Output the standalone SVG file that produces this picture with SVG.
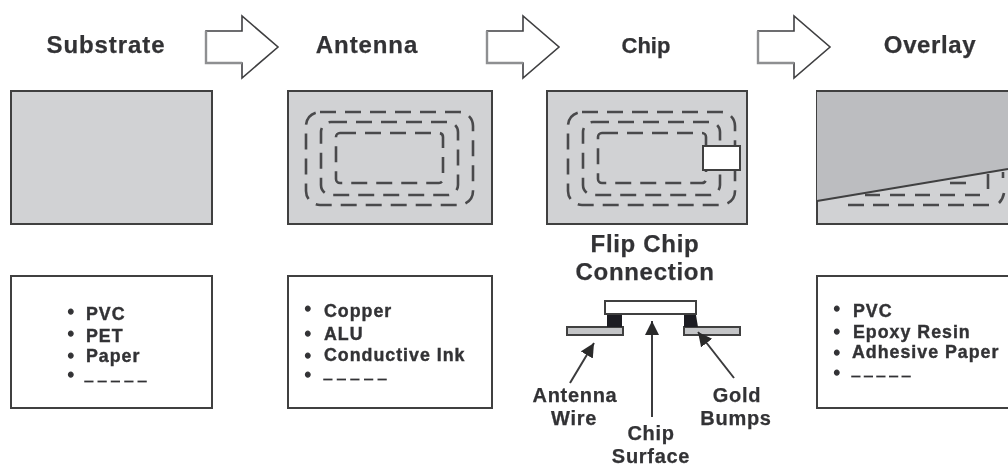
<svg xmlns="http://www.w3.org/2000/svg" width="1008" height="466" viewBox="0 0 1008 466">
<defs>
<style>
text{font-family:"Liberation Sans",Arial,sans-serif;font-weight:bold;fill:#333335;stroke:#333335;stroke-width:.25}
.h{font-size:24px;text-anchor:middle;letter-spacing:.9px}
.f{font-size:24px;text-anchor:middle;letter-spacing:.7px}
.l{font-size:17.8px;letter-spacing:1px;stroke-width:.4}
.b{font-size:16px;stroke-width:1.3}
.u{font-size:14px;stroke-width:1.2}
.c{font-size:20px;text-anchor:middle;letter-spacing:.7px}
.panel{fill:#d1d2d4;stroke:#3f3f41;stroke-width:2}
.box{fill:#fff;stroke:#3f3f41;stroke-width:2}
.flow{fill:#fff;stroke:#3f3f41;stroke-width:1.6}
.shade{fill:none;stroke:#8e8f91;stroke-width:2.4}
.dash{fill:none;stroke:#4a4a4c;stroke-width:2.6;stroke-dasharray:16 9}
.wire{fill:#c4c5c7;stroke:#3f3f41;stroke-width:2}
.bump{fill:#1f1f20}
.conn{stroke:#3a3a3c;stroke-width:2;fill:none;marker-end:url(#ah)}
</style>
<marker id="ah" markerUnits="userSpaceOnUse" markerWidth="16" markerHeight="16" refX="14" refY="7" orient="auto"><path d="M0 0L14 7L0 14Z" fill="#2a2a2c"/></marker>
<filter id="soft" x="-5%" y="-5%" width="110%" height="110%"><feGaussianBlur stdDeviation="0.55"/></filter>
</defs>
<rect width="1008" height="466" fill="#fff"/>
<g filter="url(#soft)">
<g id="substrate">
<text class="h" x="106" y="53">Substrate</text>
<rect class="panel" x="11" y="91" width="201" height="133"/>
<rect class="box" x="11" y="276" width="201" height="132"/>
<text class="b" x="68" y="317">•</text><text class="l" x="86" y="320">PVC</text>
<text class="b" x="68" y="339">•</text><text class="l" x="86" y="342">PET</text>
<text class="b" x="68" y="361">•</text><text class="l" x="86" y="362">Paper</text>
<text class="b" x="68" y="380">•</text><text class="u" x="85" y="380" textLength="61">_____</text>
</g>
<g id="arrow1"><path class="flow" d="M206 31H242V16L278 47L242 78V63H206Z"/><path class="shade" d="M206 31V63H242"/></g>
<g id="antenna">
<text class="h" x="367" y="53">Antenna</text>
<rect class="panel" x="288" y="91" width="204" height="133"/>
<rect class="dash" x="306" y="112" width="167" height="93" rx="14"/>
<rect class="dash" x="321" y="122" width="137" height="73" rx="10"/>
<rect class="dash" x="336" y="133" width="107" height="50" rx="4"/>
<rect class="box" x="288" y="276" width="204" height="132"/>
<text class="b" x="305" y="314">•</text><text class="l" x="324" y="317">Copper</text>
<text class="b" x="305" y="339">•</text><text class="l" x="324" y="340">ALU</text>
<text class="b" x="305" y="361">•</text><text class="l" x="324" y="361">Conductive Ink</text>
<text class="b" x="305" y="380">•</text><text class="u" x="324" y="378" textLength="62">_____</text>
</g>
<g id="arrow2"><path class="flow" d="M487 31H523V16L559 47L523 78V63H487Z"/><path class="shade" d="M487 31V63H523"/></g>
<g id="chip">
<text class="h" x="646" y="53" style="font-size:22px;letter-spacing:0">Chip</text>
<rect class="panel" x="547" y="91" width="200" height="133"/>
<rect class="dash" x="568" y="112" width="167" height="93" rx="14"/>
<rect class="dash" x="583" y="122" width="137" height="73" rx="10"/>
<rect class="dash" x="598" y="133" width="108" height="50" rx="4"/>
<rect class="box" x="703" y="146" width="37" height="24"/>
</g>
<g id="arrow3"><path class="flow" d="M758 31H794V16L830 47L794 78V63H758Z"/><path class="shade" d="M758 31V63H794"/></g>
<g id="overlay">
<text class="h" x="930" y="53" style="letter-spacing:.6px">Overlay</text>
<rect class="panel" x="817" y="91" width="193" height="133"/>
<path d="M817 92H1008V169L817 201Z" fill="#bcbdc0"/>
<path class="dash" d="M848 205H995"/>
<path class="dash" d="M865 195H982" style="stroke-dasharray:15 10"/>
<path class="dash" d="M950 183H967"/>
<path d="M988 174V189M1003 172V178M999 203Q1003 199 1004 193" fill="none" stroke="#4a4a4c" stroke-width="2.6"/>
<path d="M817 201L1008 169" fill="none" stroke="#3f3f41" stroke-width="1.8"/>
<rect class="box" x="817" y="276" width="193" height="132"/>
<text class="b" x="834" y="314">•</text><text class="l" x="853" y="317">PVC</text>
<text class="b" x="834" y="337">•</text><text class="l" x="853" y="338">Epoxy Resin</text>
<text class="b" x="834" y="358">•</text><text class="l" x="852" y="358">Adhesive Paper</text>
<text class="b" x="834" y="378">•</text><text class="u" x="852" y="375" textLength="58">_____</text>
</g>
<g id="flip-chip">
<text class="f" x="645" y="252">Flip Chip</text>
<text class="f" x="645" y="280">Connection</text>
<rect class="box" x="605" y="301" width="91" height="13"/>
<rect class="wire" x="567" y="327" width="56" height="8"/>
<rect class="wire" x="684" y="327" width="56" height="8"/>
<path class="bump" d="M607 315H622V327H607Z M684 315H696L698 327H684Z"/>
<text class="c"><tspan x="575" y="402">Antenna</tspan><tspan x="574" y="425">Wire</tspan></text>
<text class="c"><tspan x="651" y="440">Chip</tspan><tspan x="651" y="463">Surface</tspan></text>
<text class="c"><tspan x="737" y="402">Gold</tspan><tspan x="736" y="425">Bumps</tspan></text>
</g>
<g id="connectors">
<path class="conn" d="M570 383L594 343"/>
<path class="conn" d="M652 417V321"/>
<path class="conn" d="M734 378L698 332"/>
</g>
</g>
</svg>
